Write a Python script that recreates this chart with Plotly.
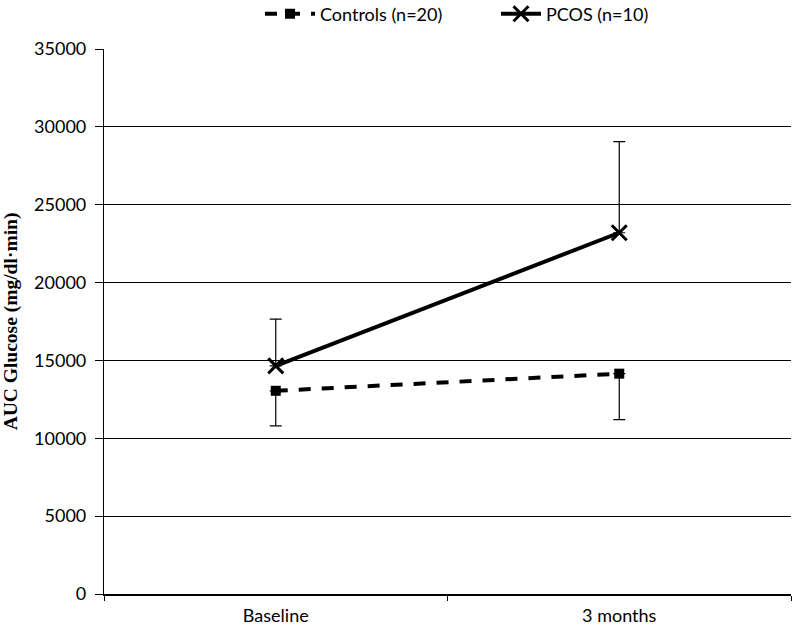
import plotly.graph_objects as go

categories = ["Baseline", "3 months"]
controls_mean = [13050, 14150]
controls_err_minus = [2250, 2950]
pcos_mean = [14650, 23200]
pcos_err_plus = [3000, 5850]
y_ticks = [0, 5000, 10000, 15000, 20000, 25000, 30000, 35000]
y_tick_text = [str(v) for v in y_ticks]

font_main = "Lato, 'Open Sans', sans-serif"

W, H = 792, 628
PL, PR, PT, PB = 104, 791, 49, 594  # plot area in px
paper_h = PB  # margin t=0
dom_top = (PB - PT) / paper_h

def px_x(px):
    return (px - PL) / (PR - PL)

def px_y(py):
    return (paper_h - py) / paper_h

fig = go.Figure()
fig.add_trace(go.Scatter(
    x=categories, y=controls_mean, name="Controls (n=20)",
    mode="lines+markers", legend="legend",
    line=dict(color="black", width=4, dash="12px,11px"),
    marker=dict(symbol="square", size=10, color="black"),
    error_y=dict(type="data", symmetric=False, array=[0, 0], arrayminus=controls_err_minus,
                 color="black", thickness=1.2, width=6),
))
fig.add_trace(go.Scatter(
    x=categories, y=pcos_mean, name="PCOS (n=10)",
    mode="lines+markers", legend="legend2",
    line=dict(color="black", width=4),
    marker=dict(symbol="x-thin", size=15, color="black", line=dict(color="black", width=3)),
    error_y=dict(type="data", symmetric=False, array=pcos_err_plus, arrayminus=[0, 0],
                 color="black", thickness=1.2, width=6),
))

legend_common = dict(orientation="h", yanchor="middle", y=px_y(14),
                     font=dict(size=18, family=font_main), bgcolor="rgba(0,0,0,0)",
                     borderwidth=0)

fig.update_layout(
    width=W, height=H,
    margin=dict(l=PL, r=W - PR, t=0, b=H - PB, autoexpand=False),
    paper_bgcolor="white", plot_bgcolor="white",
    font=dict(family=font_main, size=18, color="black"),
    showlegend=True,
    legend=dict(x=px_x(260), xanchor="left", itemwidth=50, **legend_common),
    legend2=dict(x=px_x(496), xanchor="left", itemwidth=40, **legend_common),
    xaxis=dict(type="category", tickson="boundaries", ticks="outside", ticklen=5,
               tickcolor="black", showline=True, linecolor="black", linewidth=1.5,
               showgrid=False, tickfont=dict(size=18), range=[-0.5, 1.5], automargin=False,
               ticklabelstandoff=5),
    yaxis=dict(range=[0, 35000], tickvals=y_ticks, ticktext=y_tick_text,
               domain=[0, dom_top], ticks="outside", ticklen=8,
               tickcolor="black", showline=True, linecolor="black", linewidth=1.2,
               showgrid=True, gridcolor="black", gridwidth=1, zeroline=False,
               tickfont=dict(size=18), automargin=False, ticklabelstandoff=5,
               title=dict(text="<b>AUC Glucose (mg/dl·min)</b>",
                          font=dict(family="'Liberation Serif', 'Times New Roman', serif", size=19.5),
                          standoff=12)),
)

fig.write_html("out.html", config={"displayModeBar": False},
               post_script="document.body.style.margin='0';document.body.style.overflow='hidden';")
